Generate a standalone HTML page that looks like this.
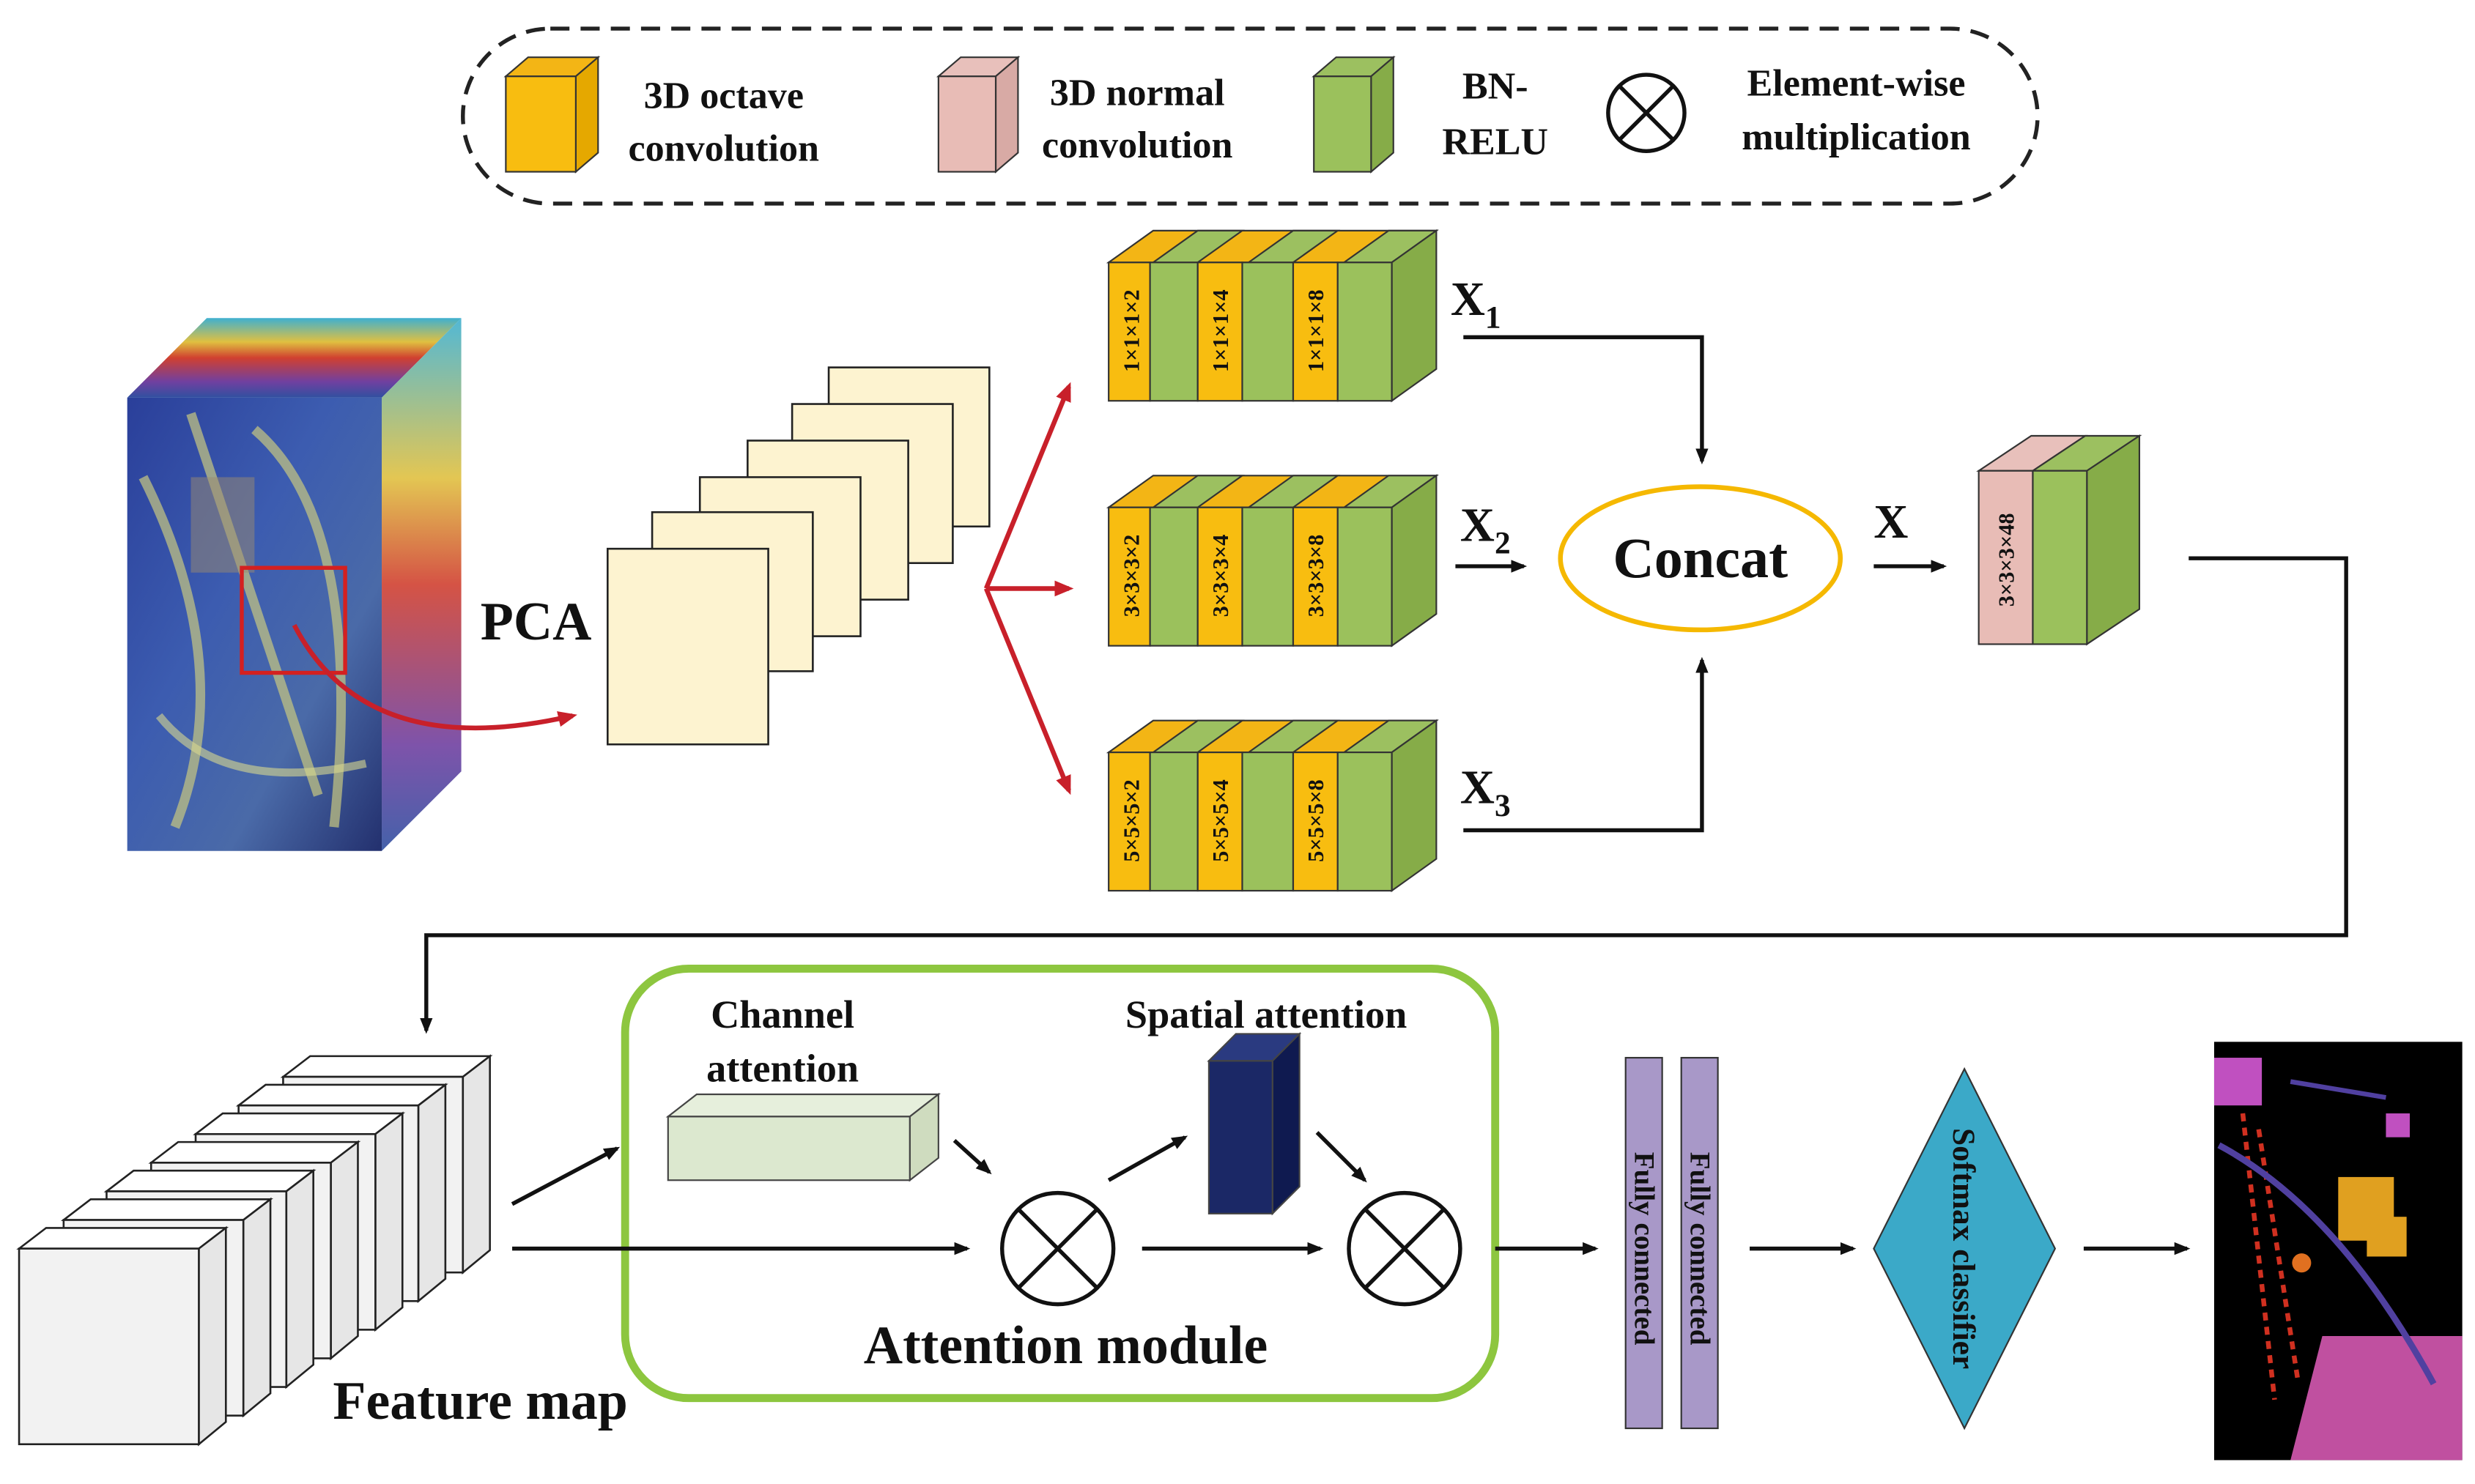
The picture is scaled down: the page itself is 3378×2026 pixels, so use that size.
<!DOCTYPE html>
<html><head><meta charset="utf-8"><style>
html,body{margin:0;padding:0;background:#fff}
svg{display:block}
text{font-family:"Liberation Serif",serif;font-weight:bold;fill:#111}
</style></head><body>
<svg width="3378" height="2026" viewBox="0 0 1556 933" preserveAspectRatio="none" xmlns="http://www.w3.org/2000/svg">
<defs>
<marker id="ak" markerWidth="10" markerHeight="10" refX="8" refY="5" orient="auto" markerUnits="userSpaceOnUse"><path d="M0,1 L10,5 L0,9 Z" fill="#111"/></marker>
<marker id="ar" markerWidth="12" markerHeight="12" refX="9" refY="6" orient="auto" markerUnits="userSpaceOnUse"><path d="M0,1 L12,6 L0,11 Z" fill="#c8202a"/></marker>
<linearGradient id="hs" x1="0" y1="0" x2="1" y2="1">
<stop offset="0" stop-color="#2a3f9a"/><stop offset="0.4" stop-color="#3c5cb0"/><stop offset="0.7" stop-color="#4a6aa8"/><stop offset="1" stop-color="#23306e"/></linearGradient>
<linearGradient id="hs2" x1="0" y1="0" x2="0" y2="1">
<stop offset="0" stop-color="#3fb0d0"/><stop offset="0.3" stop-color="#e0c040"/><stop offset="0.5" stop-color="#d04030"/><stop offset="0.8" stop-color="#7040a0"/><stop offset="1" stop-color="#3050a0"/></linearGradient>
</defs>

<rect x="291" y="18" width="990" height="110" rx="55" fill="none" stroke="#222" stroke-width="2.5" stroke-dasharray="12,7"/>
<g stroke="#333" stroke-width="1">
<path d="M318,48 L332,36 L376,36 L362,48Z" fill="#f3b515"/><path d="M362,48 L376,36 L376,96 L362,108Z" fill="#e5a800"/><rect x="318" y="48" width="44" height="60" fill="#f8bd10"/>
<path d="M590,48 L604,36 L640,36 L626,48Z" fill="#e8c0bb"/><path d="M626,48 L640,36 L640,96 L626,108Z" fill="#d8aaa5"/><rect x="590" y="48" width="36" height="60" fill="#e8bcb6"/>
<path d="M826,48 L840,36 L876,36 L862,48Z" fill="#9cc060"/><path d="M862,48 L876,36 L876,96 L862,108Z" fill="#86ac48"/><rect x="826" y="48" width="36" height="60" fill="#9bc15c"/>
</g>
<text x="455" y="68" font-size="24" text-anchor="middle">3D octave</text>
<text x="455" y="101" font-size="24" text-anchor="middle">convolution</text>
<text x="715" y="66" font-size="24" text-anchor="middle">3D normal</text>
<text x="715" y="99" font-size="24" text-anchor="middle">convolution</text>
<text x="940" y="62" font-size="24" text-anchor="middle">BN-</text>
<text x="940" y="97" font-size="24" text-anchor="middle">RELU</text>
<circle cx="1035" cy="71" r="24" fill="#fff" stroke="#111" stroke-width="2.5"/>
<path d="M1018,54 L1052,88 M1052,54 L1018,88" stroke="#111" stroke-width="2.5"/>
<text x="1167" y="60" font-size="24" text-anchor="middle">Element-wise</text>
<text x="1167" y="94" font-size="24" text-anchor="middle">multiplication</text>

<path d="M80,250 L130,200 L290,200 L240,250Z" fill="url(#hs2)"/>
<path d="M240,250 L290,200 L290,485 L240,535Z" fill="url(#hs2)" opacity="0.9"/>
<rect x="80" y="250" width="160" height="285" fill="url(#hs)"/>
<path d="M90,300 Q150,420 110,520 M120,260 L200,500 M160,270 Q230,330 210,520" stroke="#c8c880" stroke-width="6" fill="none" opacity="0.7"/>
<path d="M100,450 Q140,500 230,480" stroke="#d8d890" stroke-width="5" fill="none" opacity="0.6"/>
<rect x="120" y="300" width="40" height="60" fill="#9a8a70" opacity="0.5"/>
<rect x="152" y="357" width="65" height="66" fill="none" stroke="#d42020" stroke-width="2.5"/>
<path d="M185,393 Q230,480 360,450" stroke="#c8202a" stroke-width="3" fill="none" marker-end="url(#ar)"/>
<text x="337" y="402" font-size="34" text-anchor="middle">PCA</text>

<g fill="#fdf3d0" stroke="#222" stroke-width="1.2">
<rect x="521" y="231" width="101" height="100"/>
<rect x="498" y="254" width="101" height="100"/>
<rect x="470" y="277" width="101" height="100"/>
<rect x="440" y="300" width="101" height="100"/>
<rect x="410" y="322" width="101" height="100"/>
<rect x="382" y="345" width="101" height="123"/>
</g>
<g stroke="#c8202a" stroke-width="3" fill="none">
<path d="M620,370 L672,243" marker-end="url(#ar)"/>
<path d="M620,370 L672,370" marker-end="url(#ar)"/>
<path d="M620,370 L672,497" marker-end="url(#ar)"/>
</g>

<g stroke="#333" stroke-width="1">
<g id="row1">
<path d="M697,165 L725,145 L903,145 L875,165Z" fill="#f3b515"/>
<path d="M725,165 L753,145 L781,145 L753,165Z M785,165 L813,145 L841,145 L813,165Z M845,165 L873,145 L903,145 L875,165Z" fill="#9cc060"/>
<path d="M875,165 L903,145 L903,232 L875,252Z" fill="#86ac48"/>
<rect x="697" y="165" width="26" height="87" fill="#f8bd10"/>
<rect x="723" y="165" width="30" height="87" fill="#9bc15c"/>
<rect x="753" y="165" width="28" height="87" fill="#f8bd10"/>
<rect x="781" y="165" width="32" height="87" fill="#9bc15c"/>
<rect x="813" y="165" width="28" height="87" fill="#f8bd10"/>
<rect x="841" y="165" width="34" height="87" fill="#9bc15c"/>
</g>
<use href="#row1" transform="translate(0,154)"/>
<use href="#row1" transform="translate(0,308)"/>
</g>
<g font-size="14">
<text transform="translate(716,208) rotate(-90)" text-anchor="middle">1×1×1×2</text>
<text transform="translate(772,208) rotate(-90)" text-anchor="middle">1×1×1×4</text>
<text transform="translate(832,208) rotate(-90)" text-anchor="middle">1×1×1×8</text>
<text transform="translate(716,362) rotate(-90)" text-anchor="middle">3×3×3×2</text>
<text transform="translate(772,362) rotate(-90)" text-anchor="middle">3×3×3×4</text>
<text transform="translate(832,362) rotate(-90)" text-anchor="middle">3×3×3×8</text>
<text transform="translate(716,516) rotate(-90)" text-anchor="middle">5×5×5×2</text>
<text transform="translate(772,516) rotate(-90)" text-anchor="middle">5×5×5×4</text>
<text transform="translate(832,516) rotate(-90)" text-anchor="middle">5×5×5×8</text>
</g>
<text x="912" y="198" font-size="30" font-weight="normal">X<tspan font-size="20" dy="8">1</tspan></text>
<text x="918" y="340" font-size="30" font-weight="normal">X<tspan font-size="20" dy="8">2</tspan></text>
<text x="918" y="505" font-size="30" font-weight="normal">X<tspan font-size="20" dy="8">3</tspan></text>
<text x="1178" y="338" font-size="30" font-weight="normal">X</text>
<g stroke="#111" stroke-width="2.5" fill="none">
<path d="M920,212 L1070,212 L1070,290" marker-end="url(#ak)"/>
<path d="M920,522 L1070,522 L1070,415" marker-end="url(#ak)"/>
<path d="M915,356 L958,356" marker-end="url(#ak)"/>
<path d="M1178,356 L1222,356" marker-end="url(#ak)"/>
<path d="M1376,351 L1475,351 L1475,588 L268,588 L268,648" marker-end="url(#ak)"/>
</g>
<ellipse cx="1069" cy="351" rx="88" ry="45" fill="#fff" stroke="#f5b800" stroke-width="3"/>
<text x="1069" y="363" font-size="36" text-anchor="middle">Concat</text>

<g stroke="#333" stroke-width="1">
<path d="M1244,296 L1277,274 L1311,274 L1278,296Z" fill="#e8c0bb"/>
<path d="M1278,296 L1311,274 L1345,274 L1312,296Z" fill="#9cc060"/>
<path d="M1312,296 L1345,274 L1345,383 L1312,405Z" fill="#86ac48"/>
<rect x="1244" y="296" width="34" height="109" fill="#e8bcb6"/>
<rect x="1278" y="296" width="34" height="109" fill="#9bc15c"/>
</g>
<text transform="translate(1266,352) rotate(-90)" font-size="14" text-anchor="middle">3×3×3×48</text>

<g fill="#f2f2f2" stroke="#222" stroke-width="1.2">
<g id="cube"><path d="M178,677 L195,664 L308,664 L291,677Z" fill="#fff"/><path d="M291,677 L308,664 L308,786 L291,800Z" fill="#e6e6e6"/><rect x="178" y="677" width="113" height="123"/></g>
<use href="#cube" transform="translate(-28,18)"/>
<use href="#cube" transform="translate(-55,36)"/>
<use href="#cube" transform="translate(-83,54)"/>
<use href="#cube" transform="translate(-111,72)"/>
<use href="#cube" transform="translate(-138,90)"/>
<use href="#cube" transform="translate(-166,108)"/>
</g>
<text x="302" y="892" font-size="34" text-anchor="middle">Feature map</text>

<rect x="393" y="609" width="547" height="270" rx="40" fill="none" stroke="#8dc63f" stroke-width="5"/>
<text x="492" y="646" font-size="25" text-anchor="middle">Channel</text>
<text x="492" y="680" font-size="25" text-anchor="middle">attention</text>
<text x="796" y="646" font-size="25" text-anchor="middle">Spatial attention</text>
<g stroke="#444" stroke-width="1">
<path d="M420,702 L438,688 L590,688 L572,702Z" fill="#e6efdc"/>
<path d="M572,702 L590,688 L590,728 L572,742Z" fill="#cfdcbf"/>
<rect x="420" y="702" width="152" height="40" fill="#dce8cf"/>
<path d="M760,667 L777,650 L817,650 L800,667Z" fill="#2a3a80"/>
<path d="M800,667 L817,650 L817,746 L800,763Z" fill="#0f1a50"/>
<rect x="760" y="667" width="40" height="96" fill="#1b2866"/>
</g>
<g stroke="#111" stroke-width="2.5" fill="#fff">
<circle cx="665" cy="785" r="35"/><path d="M640,760 L690,810 M690,760 L640,810"/>
<circle cx="883" cy="785" r="35"/><path d="M858,760 L908,810 M908,760 L858,810"/>
</g>
<g stroke="#111" stroke-width="2.5" fill="none">
<path d="M322,757 L388,722" marker-end="url(#ak)"/>
<path d="M322,785 L608,785" marker-end="url(#ak)"/>
<path d="M600,717 L622,737" marker-end="url(#ak)"/>
<path d="M697,742 L745,715" marker-end="url(#ak)"/>
<path d="M718,785 L830,785" marker-end="url(#ak)"/>
<path d="M828,712 L858,742" marker-end="url(#ak)"/>
<path d="M940,785 L1003,785" marker-end="url(#ak)"/>
<path d="M1100,785 L1165,785" marker-end="url(#ak)"/>
<path d="M1310,785 L1375,785" marker-end="url(#ak)"/>
</g>
<text x="670" y="857" font-size="34" text-anchor="middle">Attention module</text>

<rect x="1022" y="665" width="23" height="233" fill="#a898c8" stroke="#333" stroke-width="1"/>
<rect x="1057" y="665" width="23" height="233" fill="#a898c8" stroke="#333" stroke-width="1"/>
<text transform="translate(1034,785) rotate(90)" font-size="18" text-anchor="middle" dy="6">Fully connected</text>
<text transform="translate(1069,785) rotate(90)" font-size="18" text-anchor="middle" dy="6">Fully connected</text>

<path d="M1235,672 L1292,785 L1235,898 L1178,785Z" fill="#3ba9c8" stroke="#333" stroke-width="1"/>
<text transform="translate(1235,785) rotate(90)" font-size="20" text-anchor="middle" dy="7">Softmax classifier</text>

<rect x="1392" y="655" width="156" height="263" fill="#000"/>
<path d="M1460,840 L1548,840 L1548,918 L1440,918Z" fill="#c050a0"/>
<rect x="1392" y="665" width="30" height="30" fill="#c050c0"/>
<rect x="1470" y="740" width="35" height="40" fill="#e0a020"/>
<rect x="1488" y="765" width="25" height="25" fill="#e0a020"/>
<circle cx="1447" cy="794" r="6" fill="#e07020"/>
<path d="M1410,700 L1430,880 M1420,710 L1445,870" stroke="#d03020" stroke-width="3" stroke-dasharray="5,4"/>
<path d="M1395,720 Q1470,760 1530,870" stroke="#5040a0" stroke-width="4" fill="none"/>
<rect x="1500" y="700" width="15" height="15" fill="#c050c0"/>
<path d="M1440,680 L1500,690" stroke="#5040a0" stroke-width="3"/>
</svg>
</body></html>
